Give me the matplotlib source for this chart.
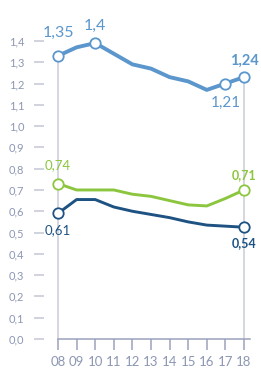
import matplotlib
matplotlib.use("Agg")
import matplotlib.pyplot as plt

# --- data ---
years = [8, 9, 10, 11, 12, 13, 14, 15, 16, 17, 18]
year_labels = ["08", "09", "10", "11", "12", "13", "14", "15", "16", "17", "18"]
top_series = [1.33, 1.37, 1.39, 1.34, 1.29, 1.27, 1.23, 1.21, 1.17, 1.20, 1.23]
green_series = [0.73, 0.70, 0.70, 0.70, 0.68, 0.67, 0.65, 0.63, 0.625, 0.66, 0.70]
dark_series = [0.59, 0.655, 0.655, 0.62, 0.60, 0.585, 0.57, 0.55, 0.535, 0.53, 0.525]
y_ticks = [0.0, 0.1, 0.2, 0.3, 0.4, 0.5, 0.6, 0.7, 0.8, 0.9, 1.0, 1.1, 1.2, 1.3, 1.4]

# (series index, point index, text, offset px, bold, fontsize)
labels = [
    (0, 0, "1,35", 23, False, 11.5),
    (0, 2, "1,4", 17, False, 11.5),
    (0, 9, "1,21", -19, False, 11),
    (0, 10, "1,24", 16, True, 10.5),
    (1, 0, "0,74", 18, False, 9.5),
    (2, 0, "0,61", -17, False, 9.5),
    (1, 10, "0,71", 15, True, 9),
    (2, 10, "0,54", -16, True, 9),
]

LIGHT = "#5b96cc"
GREEN = "#8cc63e"
DARK = "#1e5282"
TICKTXT = "#8d97b3"

plt.rcParams["font.family"] = ["Lato", "DejaVu Sans"]

fig = plt.figure(figsize=(2.61, 3.70), dpi=100)
ax = fig.add_axes([34 / 261, 31 / 370, 218 / 261, 330 / 370])
ax.set_xlim(8 - 24 / 18.6, 18 + 8 / 18.6)
ax.set_ylim(0, 1.55)

# drop lines at first and last year
for i in (0, -1):
    ax.plot([years[i], years[i]], [0, top_series[i]], color="#c9ccd9", lw=1.1, zorder=1)

series = [(top_series, LIGHT, 2.8), (green_series, GREEN, 2.1), (dark_series, DARK, 2.1)]
for vals, col, lw in series:
    ax.plot(years, vals, color=col, lw=lw, zorder=2, solid_joinstyle="round")

marker_pts = [(0, 0), (0, 2), (0, 9), (0, 10), (1, 0), (1, 10), (2, 0), (2, 10)]
for s, i in marker_pts:
    vals, col, _ = series[s]
    ax.plot(years[i], vals[i], "o", ms=7.5, mfc="white", mec=col, mew=1.3, zorder=3)

for s, i, txt, off, bold, fs in labels:
    vals, col, _ = series[s]
    ax.annotate(txt, (years[i], vals[i]), xytext=(0, off * 0.72), textcoords="offset points",
                ha="center", va="center", color=col, fontsize=fs,
                fontweight="bold" if bold else "normal")

for side in ("top", "right", "left"):
    ax.spines[side].set_visible(False)
ax.spines["bottom"].set_bounds(8, 18.3)
ax.spines["bottom"].set_color("#9ba2bd")
ax.spines["bottom"].set_linewidth(1.1)

ax.set_yticks(y_ticks)
ax.set_yticklabels([f"{v:.1f}".replace(".", ",") for v in y_ticks])
ax.tick_params(axis="y", direction="in", length=7, width=1.1, color="#c3c7d5",
               pad=7, labelsize=8, labelcolor=TICKTXT)
ax.set_xticks(years)
ax.set_xticklabels(year_labels)
ax.tick_params(axis="x", direction="out", length=8, width=1.1, color="#9ba2bd",
               pad=4, labelsize=9.5, labelcolor=TICKTXT)

fig.savefig("out.png", dpi=100)
